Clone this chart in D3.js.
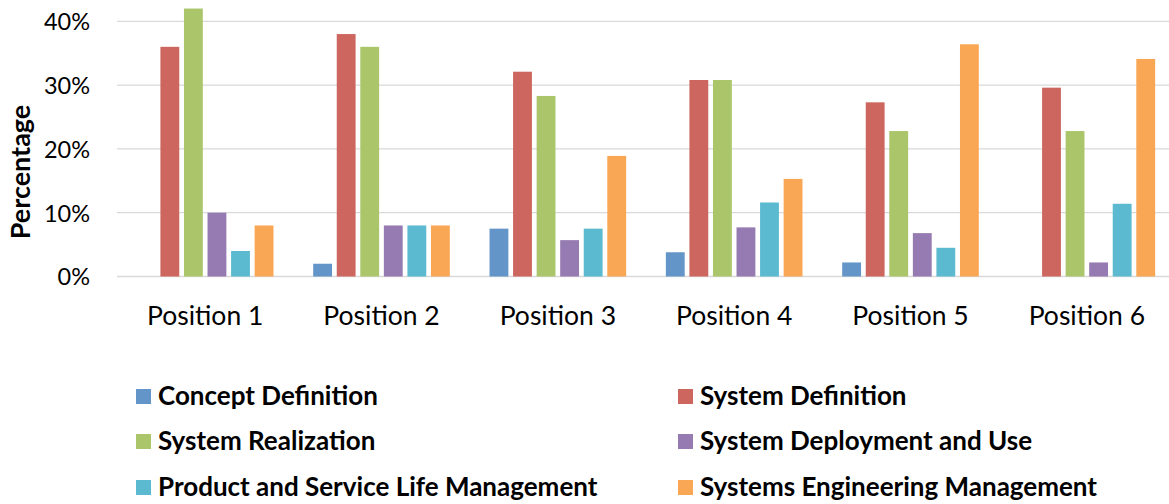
<!DOCTYPE html>
<html><head><meta charset="utf-8">
<script src="https://cdn.jsdelivr.net/npm/d3@7"></script>
<style>body{margin:0;background:#fff}svg{display:block}text{font-family:Lato,"Open Sans",sans-serif}</style>
</head><body>
<svg id="c" width="1169" height="504"></svg>
<script>
const categories = ["Position 1","Position 2","Position 3","Position 4","Position 5","Position 6"];
const seriesNames = ["Concept Definition","System Definition","System Realization","System Deployment and Use","Product and Service Life Management","Systems Engineering Management"];
const conceptDefinition = [0, 2, 7.5, 3.8, 2.2, 0];
const systemDefinition = [36, 38, 32.1, 30.8, 27.3, 29.6];
const systemRealization = [42, 36, 28.3, 30.8, 22.8, 22.8];
const systemDeployment = [10, 8, 5.7, 7.7, 6.8, 2.2];
const productService = [4, 8, 7.5, 11.6, 4.5, 11.4];
const seManagement = [8, 8, 18.9, 15.3, 36.4, 34.1];
const yTicks = [0, 10, 20, 30, 40];
const colors = ["#6395C8","#CD665E","#ABC56B","#957BB1","#5BBAD0","#F9A755"];

const seriesValues = [conceptDefinition, systemDefinition, systemRealization, systemDeployment, productService, seManagement];
const svg = d3.select("#c");
const x = d3.scaleBand().domain(categories).range([117, 1175]);
const xi = d3.scaleBand().domain(d3.range(6)).range([0, x.bandwidth()]).paddingInner(0.2).paddingOuter(0.843);
const y = d3.scaleLinear().domain([0, 40]).range([276.5, 21.3]);

// gridlines
svg.append("g").selectAll("line").data(yTicks).join("line")
  .attr("x1", 117).attr("x2", 1169)
  .attr("y1", d => y(d)).attr("y2", d => y(d))
  .attr("stroke", "#D9D9D9").attr("stroke-width", d => d === 0 ? 1.6 : 1.3);

// y axis labels
const yAxis = d3.axisLeft(y).tickValues(yTicks).tickFormat(d => d + "%").tickSize(0).tickPadding(0);
const ya = svg.append("g").attr("transform", "translate(90,0)").call(yAxis);
ya.select(".domain").remove();
ya.selectAll("text").attr("font-family", "Lato").attr("font-size", 23.5).attr("fill", "#000").attr("dy", "0.36em");

// x axis labels
const xAxis = d3.axisBottom(x).tickSize(0).tickPadding(0);
const xa = svg.append("g").attr("transform", "translate(0,306)").call(xAxis);
xa.select(".domain").remove();
xa.selectAll("text").attr("font-family", "Lato").attr("font-size", 26.5).attr("fill", "#000").attr("dy", "0.71em");

// bars
seriesValues.forEach((vals, si) => {
  svg.append("g").selectAll("rect").data(vals.map((v, ci) => ({v, c: categories[ci]}))).join("rect")
    .filter(d => d.v > 0)
    .attr("x", d => x(d.c) + xi(si))
    .attr("width", xi.bandwidth())
    .attr("y", d => y(d.v))
    .attr("height", d => y(0) - y(d.v))
    .attr("fill", colors[si]);
});

// y title
svg.append("text").attr("transform", "translate(30,172) rotate(-90)")
  .attr("text-anchor", "middle").attr("font-weight", "bold").attr("font-size", 27)
  .text("Percentage");

// legend
const legX = [136, 678];
const legY = [389, 434, 480];
seriesNames.forEach((n, i) => {
  const col = i % 2, row = Math.floor(i / 2);
  const g = svg.append("g").attr("transform", `translate(${legX[col]},${legY[row]})`);
  g.append("rect").attr("width", 15).attr("height", 15).attr("fill", colors[i]);
  g.append("text").attr("x", 22).attr("y", 15.5).attr("font-weight", "bold").attr("font-size", 26).text(n);
});
</script>
</body></html>
